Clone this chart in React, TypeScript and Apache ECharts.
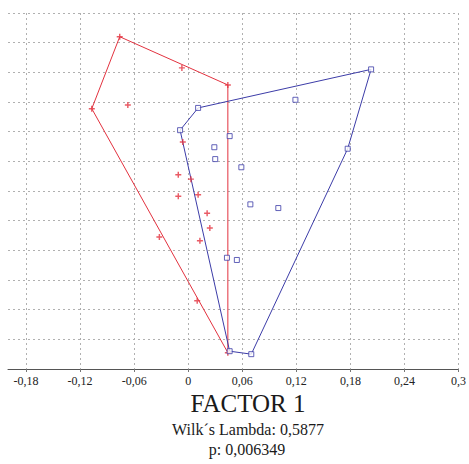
import React, { useEffect, useRef } from "react";
import * as echarts from "echarts";

// Group 1 (red "+") points: [factor 1, factor 2]
const redPoints: [number, number][] = [
  [-0.076, 0.208],
  [-0.007, 0.166],
  [0.044, 0.143],
  [-0.107, 0.111],
  [-0.067, 0.116],
  [-0.006, 0.066],
  [-0.011, 0.022],
  [0.003, 0.016],
  [-0.011, -0.007],
  [0.011, -0.005],
  [0.021, -0.03],
  [0.024, -0.05],
  [0.013, -0.067],
  [-0.032, -0.062],
  [0.01, -0.148],
  [0.044, -0.218],
];
// convex hull vertex order (indices into redPoints)
const redHull = [0, 2, 15, 3, 0];

// Group 2 (blue squares)
const bluePoints: [number, number][] = [
  [0.203, 0.164],
  [0.119, 0.123],
  [0.011, 0.112],
  [-0.009, 0.082],
  [0.046, 0.074],
  [0.029, 0.059],
  [0.03, 0.043],
  [0.059, 0.032],
  [0.177, 0.057],
  [0.069, -0.018],
  [0.1, -0.023],
  [0.043, -0.09],
  [0.054, -0.093],
  [0.046, -0.216],
  [0.07, -0.22],
];
const blueHull = [0, 8, 14, 13, 3, 2, 0];

const xTickLabels = [-0.18, -0.12, -0.06, 0, 0.06, 0.12, 0.18, 0.24, 0.3];
const xAxisTitle = "FACTOR 1";
const statLines = ["Wilk\u00b4s Lambda: 0,5877", "p: 0,006349"];

const RED = "#e3323f";
const BLUE = "#3c3ca8";
const SERIF = "Liberation Serif";

export default function App() {
  const ref = useRef<HTMLDivElement>(null);
  useEffect(() => {
    if (!ref.current) return;
    const chart = echarts.init(ref.current, null, { renderer: "svg" });
    const gridLine = { show: true, lineStyle: { color: "#b0b0b0", type: [2, 3] as any, width: 1 } };
    chart.setOption({
      animation: false,
      backgroundColor: "#ffffff",
      grid: { left: 8, right: 8, top: 13, bottom: 95, containLabel: false },
      xAxis: {
        type: "value",
        min: -0.2,
        max: 0.3,
        interval: 0.1,
        splitLine: gridLine,
        axisLine: { show: true, onZero: false, lineStyle: { color: "#555", width: 1 } },
        axisTick: { show: true, length: 3, customValues: xTickLabels, lineStyle: { color: "#777" } },
        axisLabel: {
          customValues: xTickLabels,
          formatter: (v: number) => String(v).replace(".", ","),
          fontFamily: SERIF,
          fontSize: 12,
          color: "#222",
          margin: 6,
        },
      },
      yAxis: {
        type: "value",
        min: -0.24,
        max: 0.24,
        interval: 0.04,
        splitLine: gridLine,
        axisLine: { show: false },
        axisTick: { show: false },
        axisLabel: { show: false },
      },
      series: [
        {
          type: "line",
          data: redHull.map((i) => redPoints[i]),
          symbol: "none",
          lineStyle: { color: RED, width: 1 },
          z: 2,
        },
        {
          type: "line",
          data: blueHull.map((i) => bluePoints[i]),
          symbol: "none",
          lineStyle: { color: BLUE, width: 1 },
          z: 2,
        },
        {
          type: "scatter",
          data: redPoints,
          symbol: "path://M0.38,0H0.62V0.38H1V0.62H0.62V1H0.38V0.62H0V0.38H0.38Z",
          symbolSize: 6,
          itemStyle: { color: RED },
          z: 3,
        },
        {
          type: "scatter",
          data: bluePoints,
          symbol: "rect",
          symbolSize: 5,
          itemStyle: { color: "#ffffff", borderColor: BLUE, borderWidth: 1 },
          z: 3,
        },
      ],
      graphic: [
        {
          type: "text",
          x: 248,
          y: 403,
          style: {
            text: xAxisTitle,
            font: `25px "${SERIF}", serif`,
            fill: "#1a1a1a",
            textAlign: "center",
            textVerticalAlign: "middle",
          },
        },
        {
          type: "text",
          x: 248,
          y: 429,
          style: {
            text: statLines[0],
            font: `16px "${SERIF}", serif`,
            fill: "#1a1a1a",
            textAlign: "center",
            textVerticalAlign: "middle",
          },
        },
        {
          type: "text",
          x: 247,
          y: 449,
          style: {
            text: statLines[1],
            font: `16px "${SERIF}", serif`,
            fill: "#1a1a1a",
            textAlign: "center",
            textVerticalAlign: "middle",
          },
        },
      ],
    });
    return () => chart.dispose();
  }, []);
  return (
    <div
      ref={ref}
      style={{ position: "fixed", left: 0, top: 0, width: 469, height: 464, background: "#fff" }}
    />
  );
}
